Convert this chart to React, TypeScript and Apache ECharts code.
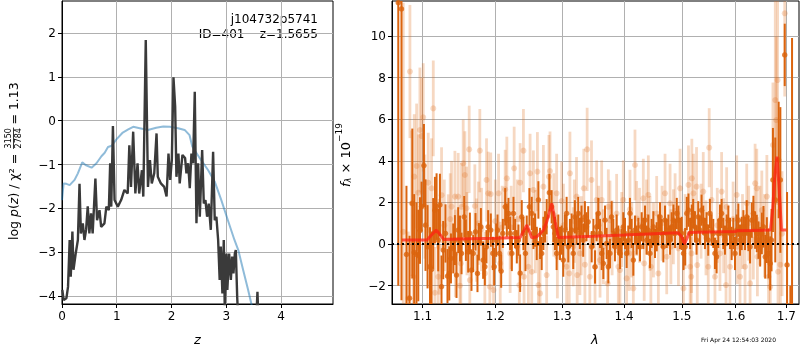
import React, { useEffect, useRef } from "react";
import * as echarts from "echarts";

// ---- left panel: log p(z) ----
const pzZ = [0.006, 0.03, 0.08, 0.11, 0.14, 0.16, 0.19, 0.21, 0.25, 0.29, 0.32, 0.345, 0.38, 0.41, 0.44, 0.47, 0.5, 0.53, 0.56, 0.61, 0.64, 0.685, 0.715, 0.775, 0.81, 0.855, 0.88, 0.9, 0.93, 0.96, 1.02, 1.08, 1.14, 1.2, 1.23, 1.26, 1.3, 1.34, 1.38, 1.41, 1.46, 1.485, 1.53, 1.57, 1.606, 1.64, 1.685, 1.727, 1.75, 1.806, 1.867, 1.91, 1.945, 1.976, 2.006, 2.036, 2.067, 2.09, 2.127, 2.15, 2.2, 2.248, 2.273, 2.304, 2.334, 2.364, 2.395, 2.425, 2.456, 2.486, 2.517, 2.56, 2.59, 2.62, 2.65, 2.68, 2.718, 2.76, 2.79, 2.82, 2.852, 2.88, 2.9, 2.93, 2.955, 2.973, 3.004, 3.02, 3.053, 3.084, 3.108, 3.132, 3.157, 3.175, 3.2, 3.218, 3.35, 3.5, 3.55, 3.57, 3.59, 3.8, 4.2, 4.9];
const pzLog = [-3.86, -4.09, -4.05, -3.79, -2.72, -3.56, -2.53, -3.4, -3.03, -2.72, -1.44, -2.57, -2.34, -2.72, -2.49, -1.95, -2.57, -2.11, -2.57, -1.32, -2.27, -2.04, -2.42, -2.34, -1.96, -2.04, -0.97, -1.96, -0.12, -1.81, -1.96, -1.81, -1.58, -1.66, -0.56, -1.51, -0.25, -1.66, -0.97, -1.66, -1.13, -1.73, 1.84, -1.51, -0.9, -1.43, -1.2, -0.29, -1.28, -1.43, -1.51, -1.73, -0.75, -1.35, -0.9, 0.99, 0.32, -1.28, -0.75, -1.43, -0.78, -0.85, -1.2, -0.97, -1.54, -0.75, -0.97, 0.66, -2.34, -0.97, -2.19, -0.67, -1.89, -1.81, -2.19, -1.89, -2.49, -0.71, -2.27, -2.19, -2.72, -3.63, -2.87, -3.94, -2.72, -4.3, -3.03, -3.86, -3.03, -3.63, -3.1, -3.48, -3.03, -2.95, -4.02, -4.5, -5.2, -5.0, -4.5, -3.9, -4.6, -5.5, -6.5, -8.0];
const priorZ = [0, 0.03, 0.08, 0.14, 0.23, 0.29, 0.37, 0.43, 0.54, 0.63, 0.72, 0.78, 0.84, 0.91, 0.99, 1.11, 1.21, 1.3, 1.42, 1.57, 1.72, 1.85, 1.97, 2.12, 2.24, 2.33, 2.38, 2.52, 2.67, 2.79, 2.91, 3.03, 3.15, 3.22, 3.31, 3.4, 3.46, 3.52, 3.7];
const priorLog = [-1.81, -1.43, -1.44, -1.47, -1.35, -1.2, -0.95, -1.01, -1.07, -0.97, -0.81, -0.73, -0.6, -0.57, -0.43, -0.27, -0.2, -0.14, -0.17, -0.21, -0.16, -0.13, -0.14, -0.17, -0.21, -0.33, -0.59, -0.86, -1.13, -1.39, -1.81, -2.27, -2.72, -2.95, -3.41, -3.86, -4.18, -4.55, -5.8];
const zTicks = [0, 1, 2, 3, 4];
const logpTicks = [-4, -3, -2, -1, 0, 1, 2];

// ---- right panel: spectrum ----
const lamTicks = [1.1, 1.2, 1.3, 1.4, 1.5, 1.6, 1.7];
const fluxTicks = [-2, 0, 2, 4, 6, 8, 10];
// [lambda, flux, error]
const darkPoints = [
  [1.0685, 11.6, 13.6], [1.0726, 11.3, 14.0], [1.079, -0.5, 3.3], [1.083, -2.6, 3.0], [1.0866, 1.95, 3.6], [1.089, -0.4, 2.8], [1.092, -0.5, 2.5], [1.0944, -0.55, 2.2], [1.0966, 0.65, 1.6], [1.0987, 1.8, 1.2], [1.1018, 3.77, 2.0],
  [1.1039, 0.91, 2.2], [1.1066, -0.13, 2.0], [1.1098, -1.09, 1.9], [1.1119, -1.22, 1.8], [1.1141, 0.51, 1.7], [1.1164, 1.63, 1.6], [1.1186, 1.8, 1.6], [1.1208, 0.19, 1.5], [1.1231, 1.88, 1.5], [1.1252, -2.05, 1.5], [1.1275, -0.29, 1.4], [1.1306, 0.51, 1.4], [1.1333, -1.54, 1.3], [1.1357, -1.41, 1.3], [1.138, -0.69, 1.2], [1.1411, -0.21, 1.2], [1.1434, 0.19, 1.2], [1.1456, -1.49, 1.1], [1.1479, 0.67, 1.1], [1.1503, 0.27, 1.1], [1.1525, -0.45, 1.0], [1.1562, 1.31, 1.0], [1.1585, 0.19, 1.0], [1.1617, -0.37, 1.0], [1.1641, 0.51, 1.0], [1.1663, -1.25, 1.0], [1.1687, -0.45, 0.9], [1.1719, 0.59, 0.9], [1.1747, -1.41, 0.9], [1.1767, 0.11, 0.9], [1.1795, 0.83, 0.9], [1.1827, -0.77, 0.9], [1.1851, -1.09, 0.9], [1.1874, -0.13, 0.8], [1.1898, 0.83, 0.8], [1.1936, 0.67, 0.8],
  [1.1965, -0.45, 0.8], [1.1984, -1.09, 0.9], [1.2013, 0.19, 0.8], [1.2032, 0.67, 0.75], [1.2061, -0.45, 0.85], [1.2085, -1.3, 0.8], [1.2109, 0.51, 0.7], [1.2143, 1.79, 0.9], [1.2167, 1.15, 0.8], [1.2191, 1.47, 0.75], [1.2215, 0.51, 0.8], [1.224, -0.45, 0.85], [1.2264, 1.47, 0.8], [1.2288, 0.51, 0.7], [1.2313, -0.13, 0.8], [1.2337, 0.19, 0.75], [1.2362, -1.4, 0.9], [1.2386, 1.31, 0.8], [1.2411, 0.51, 0.8], [1.2441, -0.45, 0.85], [1.246, 0.67, 0.7], [1.25, 1.79, 0.9], [1.2535, 1.47, 0.8], [1.256, 0.51, 0.75], [1.2585, 0.67, 0.8], [1.261, 0.03, 0.8], [1.2635, 2.12, 0.9], [1.266, 0.03, 0.75], [1.2685, -0.45, 0.8], [1.2711, 0.51, 0.8], [1.2736, 0.83, 0.75], [1.2761, 1.31, 0.85], [1.2802, 2.47, 0.9], [1.2837, 1.79, 0.8], [1.2863, 0.83, 0.75], [1.2888, 0.51, 0.8], [1.2914, -0.45, 0.8], [1.294, 0.67, 0.75], [1.2966, 0.03, 0.8], [1.2991, 0.19, 0.7], [1.3017, -0.77, 0.8], [1.3043, 0.67, 0.75], [1.3069, 1.47, 0.8], [1.3095, -0.13, 0.75], [1.3121, 0.51, 0.7], [1.3147, 0.67, 0.8], [1.3173, -0.45, 0.75], [1.3199, 1.31, 0.8], [1.3225, 0.67, 0.7], [1.3252, 1.47, 0.8], [1.3278, 0.51, 0.75], [1.3304, 1.15, 0.7], [1.3331, 0.19, 0.8], [1.3358, 1.31, 0.75], [1.3384, 0.83, 0.7], [1.3411, 1.07, 0.75],
  [1.3467, -0.13, 0.75], [1.3494, 0.51, 0.7], [1.3521, -1.1, 0.8], [1.3547, 0.83, 0.7], [1.3574, 1.47, 0.75], [1.3602, 0.51, 0.7], [1.3629, -0.45, 0.8], [1.3656, -0.93, 0.75], [1.3683, 1.15, 0.7], [1.371, 0.03, 0.75], [1.3738, -1.09, 0.8], [1.3765, -0.45, 0.7], [1.3792, 1.31, 0.75], [1.382, 0.51, 0.7], [1.3847, -0.13, 0.7], [1.3875, 0.67, 0.75], [1.3903, 0.19, 0.7], [1.3931, -0.45, 0.75], [1.3958, 0.03, 0.7], [1.3986, 0.83, 0.7], [1.4014, 0.51, 0.75], [1.4042, -0.45, 0.7], [1.407, 0.19, 0.7], [1.4098, 1.47, 0.75], [1.4126, 0.51, 0.7], [1.4155, -0.77, 0.75], [1.4183, 0.67, 0.7], [1.4211, 0.19, 0.7], [1.424, 0.51, 0.75], [1.4268, -0.13, 0.7], [1.4297, 0.83, 0.7], [1.4325, 0.51, 0.75], [1.4354, 1.15, 0.7], [1.4383, 0.19, 0.7], [1.4411, 0.67, 0.75], [1.444, -0.45, 0.7], [1.4469, 0.51, 0.7], [1.4498, 0.83, 0.75], [1.4527, 0.03, 0.7], [1.4556, 0.35, 0.7], [1.4585, 0.67, 0.75], [1.4614, 1.31, 0.7], [1.4644, 0.51, 0.7], [1.4673, -0.13, 0.75], [1.4702, 1.15, 0.7], [1.4732, 0.51, 0.7], [1.4761, 0.67, 0.75], [1.4791, 0.19, 0.7], [1.482, 0.83, 0.7], [1.485, 1.15, 0.75], [1.488, 0.51, 0.7], [1.491, 1.47, 0.75], [1.494, 1.15, 0.7], [1.4969, 0.51, 0.75], [1.4999, 0.51, 0.8], [1.503, -0.45, 0.8], [1.506, -0.13, 0.9], [1.509, 1.47, 0.8], [1.512, 1.63, 0.8], [1.515, 0.51, 0.75],
  [1.5181, 1.15, 0.75], [1.5206, 1.47, 0.7], [1.5237, 0.83, 0.75], [1.5267, 0.19, 0.7], [1.5298, 1.31, 0.75], [1.5328, 0.67, 0.7], [1.5359, 1.63, 0.75], [1.539, 1.15, 0.7], [1.5421, 0.51, 0.75], [1.5451, 0.83, 0.7], [1.5482, 0.19, 0.75], [1.5513, 1.47, 0.7], [1.5544, 0.67, 0.75], [1.5576, 0.51, 0.7], [1.5607, -0.45, 0.75], [1.5638, -0.61, 0.8], [1.5669, 0.51, 0.7], [1.5701, 1.15, 0.75], [1.5732, 1.47, 0.7], [1.5764, 0.51, 0.75], [1.5795, 0.19, 0.7], [1.5827, 0.67, 0.75], [1.5859, 1.15, 0.7], [1.589, 0.51, 0.75], [1.5922, 0.03, 0.8], [1.5954, 0.51, 0.75], [1.5986, -0.45, 0.8], [1.6018, 0.67, 0.75], [1.605, 1.15, 0.8], [1.6082, 0.19, 0.75], [1.6115, 0.51, 0.8], [1.6147, 0.83, 0.8], [1.6179, 0.51, 0.8], [1.6212, 1.31, 0.8], [1.6244, 0.51, 0.85], [1.6277, -0.13, 0.8], [1.631, 1.15, 0.85], [1.6342, 1.47, 0.85], [1.6375, 0.67, 0.9], [1.6408, 0.51, 0.9], [1.6441, 0.19, 0.9], [1.6474, -0.13, 0.95], [1.6507, 0.51, 1.0], [1.654, 0.83, 1.0], [1.6574, -0.61, 1.05], [1.6607, 0.19, 1.1], [1.664, -0.45, 1.2], [1.6674, -0.93, 1.3], [1.67, 0.19, 1.5], [1.6728, 3.08, 2.5], [1.6775, 2.12, 3.0], [1.6843, 4.04, 2.8], [1.6877, 3.08, 3.5], [1.6966, 9.09, 1.5], [1.7013, -1.0, 3.5], [1.7081, -3.5, 1.5], [1.7115, -4.0, 13.9],
];
const lightPoints = [
  [1.0749, 0.59, 11.0], [1.0814, -2.6, 3.2], [1.0835, 8.29, 3.2], [1.0857, 1.96, 3.5], [1.0878, -1.57, 3.0], [1.0891, 3.24, 3.0], [1.0922, 3.75, 3.0], [1.0944, 2.47, 2.8], [1.0965, 5.48, 3.0], [1.0987, 5.19, 2.8], [1.1009, 6.09, 2.6], [1.1031, 1.8, 2.5], [1.1075, 2.95, 2.4], [1.1119, 2.68, 2.4], [1.1142, 6.52, 2.3], [1.1164, -2.34, 2.2], [1.1208, -1.57, 2.2], [1.122, -0.13, 2.3], [1.1253, 2.35, 2.3], [1.129, 0.9, 2.2], [1.1343, 0.19, 2.2], [1.137, 1.2, 2.2], [1.1388, 1.8, 2.2], [1.1434, 2.28, 2.2], [1.144, -0.45, 2.1], [1.1479, 2.28, 2.1], [1.1502, -2.0, 2.2], [1.1515, -0.93, 2.1], [1.1525, 1.79, 2.1], [1.1548, 3.88, 2.1], [1.1571, 3.32, 2.1], [1.1594, 1.72, 2.0], [1.16, 0.5, 2.0], [1.1631, 4.55, 2.1], [1.164, -1.73, 2.0], [1.171, 1.83, 2.0], [1.1734, 0.19, 2.0], [1.176, 1.0, 2.0], [1.178, 4.49, 2.0], [1.1804, 0.7, 2.0], [1.1851, -1.41, 2.0], [1.1875, 3.08, 2.0], [1.1898, 2.44, 2.0], [1.1922, -2.05, 1.9], [1.1935, 2.4, 2.0],
  [1.1975, -2.21, 1.9], [1.2, 1.1, 2.0], [1.2047, 2.44, 1.9], [1.2071, -0.93, 2.0], [1.21, 0.8, 2.0], [1.2143, 2.63, 1.9], [1.2167, 3.16, 2.0], [1.2215, -0.45, 1.9], [1.223, 0.8, 2.0], [1.2274, 3.64, 2.0], [1.232, 1.2, 1.9], [1.235, -1.97, 2.0], [1.2362, 2.95, 1.9], [1.2411, 4.49, 2.0], [1.242, -1.57, 1.9], [1.2485, -1.09, 2.0], [1.251, 3.4, 1.9], [1.2535, -1.33, 2.0], [1.256, 2.6, 1.9], [1.259, 0.6, 2.0], [1.262, 3.48, 1.9], [1.2635, -1.97, 2.0], [1.266, -2.37, 1.9], [1.2711, 2.76, 2.0], [1.2761, -1.49, 1.9], [1.2795, 3.24, 2.0], [1.2812, 3.51, 1.9], [1.287, 1.4, 2.0], [1.2914, 2.44, 1.9], [1.2925, -0.61, 2.0], [1.2991, 2.07, 1.9], [1.302, 0.9, 2.0], [1.3069, -1.09, 1.9], [1.311, -1.41, 1.9], [1.3121, 3.4, 2.0], [1.3173, -0.13, 1.9], [1.319, 1.1, 2.0], [1.3225, 2.28, 1.9], [1.3235, -1.49, 1.9], [1.3278, -0.45, 2.0], [1.33, 0.4, 1.9], [1.3341, 2.68, 1.9], [1.3358, -0.99, 1.9], [1.3394, 4.55, 2.0], [1.3437, -1.57, 1.9], [1.3464, 3.08, 1.9],
  [1.3521, -1.09, 1.9], [1.3547, 2.12, 1.9], [1.358, 0.9, 1.9], [1.3602, -0.77, 1.8], [1.3629, 2.12, 1.9], [1.3656, -0.13, 1.8], [1.3725, -1.89, 1.9], [1.3738, 1.79, 1.8], [1.3765, 1.15, 1.9], [1.38, 0.3, 1.8], [1.3875, 1.47, 1.9], [1.3903, -1.09, 1.8], [1.3931, -1.25, 1.9], [1.396, 0.7, 1.8], [1.3986, 2.12, 1.9], [1.4042, -1.65, 1.8], [1.4085, -0.45, 1.8], [1.4098, 1.67, 1.9], [1.413, 0.2, 1.8], [1.4155, -2.13, 1.8], [1.4183, 3.8, 1.7], [1.4211, 1.23, 1.8], [1.426, 0.9, 1.8], [1.4325, 2.2, 1.9], [1.434, -0.93, 1.8], [1.438, 1.3, 1.8], [1.4411, 2.36, 1.9], [1.444, 0.51, 1.8], [1.4455, -1.09, 1.8], [1.45, 0.2, 1.8], [1.4556, 1.47, 1.8], [1.4585, -1.41, 1.8], [1.465, 1.0, 1.8], [1.4702, 2.44, 1.9], [1.4732, -0.61, 1.8], [1.4791, 1.96, 1.9], [1.4805, -0.13, 1.8], [1.485, 0.83, 1.8], [1.488, 1.6, 1.8], [1.494, -0.21, 1.8], [1.4969, 2.68, 1.9], [1.503, -2.13, 1.9], [1.506, 0.6, 1.8], [1.512, 2.84, 1.9], [1.515, -1.09, 1.9], [1.517, -1.57, 1.9], [1.5176, -0.45, 1.9], [1.5181, 3.16, 1.9], [1.5211, 2.44, 1.9],
  [1.5267, 2.76, 1.9], [1.528, -1.01, 1.9], [1.535, 1.1, 1.8], [1.539, 2.52, 1.9], [1.544, 0.3, 1.8], [1.5482, -1.09, 1.9], [1.55, 4.63, 1.9], [1.5544, 2.12, 1.9], [1.5607, -1.57, 1.9], [1.565, 0.9, 1.8], [1.5701, -0.45, 1.8], [1.5732, 2.52, 1.9], [1.577, 0.4, 1.8], [1.5815, -1.97, 1.9], [1.5827, 1.79, 1.9], [1.589, -1.09, 1.9], [1.595, 1.2, 1.8], [1.6018, 2.36, 1.9], [1.603, -0.13, 1.8], [1.6082, -1.57, 1.9], [1.613, 0.6, 1.8], [1.6179, -1.09, 1.9], [1.6212, 1.96, 1.9], [1.625, 1.0, 1.8], [1.6277, -1.89, 1.9], [1.634, 0.2, 1.9], [1.6375, 2.92, 1.9], [1.6408, 2.68, 1.9], [1.642, -0.61, 1.9], [1.647, 0.9, 1.9], [1.6507, 1.63, 1.9], [1.656, 0.4, 2.0], [1.6607, 2.28, 2.0], [1.664, -1.57, 2.1], [1.6674, -2.05, 2.2], [1.6728, 4.76, 3.0], [1.6775, 6.92, 5.0], [1.6795, 5.96, 4.0], [1.6822, 7.88, 6.0], [1.683, -1.33, 3.0], [1.6877, -0.99, 3.0], [1.6911, 0.5, 3.0], [1.6966, 11.09, 4.0],
];
const modelLam = [1.0733, 1.1058, 1.112, 1.1182, 1.124, 1.128, 1.15, 1.2, 1.2362, 1.241, 1.2461, 1.25, 1.2535, 1.2611, 1.2711, 1.2762, 1.2839, 1.289, 1.2941, 1.35, 1.4, 1.45, 1.4936, 1.5, 1.5048, 1.509, 1.5134, 1.55, 1.6, 1.602, 1.6678, 1.672, 1.677, 1.681, 1.685, 1.69, 1.7];
const modelFlux = [0.19, 0.19, 0.45, 0.67, 0.42, 0.22, 0.24, 0.28, 0.32, 0.6, 0.91, 0.6, 0.3, 0.35, 0.67, 1.07, 1.96, 1.1, 0.32, 0.38, 0.44, 0.5, 0.54, 0.35, 0.0, 0.25, 0.56, 0.58, 0.6, 0.64, 0.67, 1.6, 3.4, 4.2, 2.8, 0.67, 0.67];

const FONT = "DejaVu Sans";
const DARK = "rgb(219,100,14)";
const LIGHT_BAR = "rgba(222,110,30,0.27)";
const LIGHT_DOT = "rgba(222,110,30,0.32)";
const minus = (v: number, d = 0) => (v < 0 ? "\u2212" : "") + Math.abs(v).toFixed(d);

function errBars(color: string, width: number) {
  return (params: any, api: any) => {
    const x = api.value(0);
    const y = api.value(1);
    const e = api.value(2);
    const p1 = api.coord([x, y - e]);
    const p2 = api.coord([x, y + e]);
    return {
      type: "line",
      shape: { x1: p1[0], y1: p1[1], x2: p2[0], y2: p2[1] },
      style: { stroke: color, lineWidth: width },
    };
  };
}

function measure(text: string, font: string) {
  const c = document.createElement("canvas").getContext("2d");
  if (!c) return text.length * 7;
  c.font = font;
  return c.measureText(text).width;
}

export default function App() {
  const ref = useRef<HTMLDivElement>(null);
  useEffect(() => {
    if (!ref.current) return;
    const chart = echarts.init(ref.current, null, { renderer: "svg" });
    const axisCommon = {
      axisLine: { show: true, onZero: false, lineStyle: { color: "#000", width: 1 } },
      axisTick: { show: true, length: 4, lineStyle: { color: "#000", width: 1 } },
      splitLine: { show: true, lineStyle: { color: "#b0b0b0", width: 1 } },
    };

    // y-label layout for the left panel (rotated)
    const FS = 12.5;
    const fN = `${FS}px "${FONT}"`;
    const fI = `italic ${FS}px "${FONT}"`;
    const wA =
      measure("log ", fN) + measure("p", fI) + measure("(", fN) + measure("z", fI) + measure(") / χ² = ", fN);
    const fracW = measure("3150", `8px "${FONT}"`) + 3;
    const start = -85;
    const fracC = start + wA + fracW / 2;
    const cStart = start + wA + fracW + 2;

    const option: any = {
      animation: false,
      textStyle: { fontFamily: FONT },
      grid: [
        { left: 62, top: 1, width: 271, height: 303, show: true, borderColor: "#000", borderWidth: 1, backgroundColor: "transparent" },
        { left: 392, top: 1, width: 407, height: 303, show: true, borderColor: "#000", borderWidth: 1, backgroundColor: "transparent" },
      ],
      xAxis: [
        {
          gridIndex: 0, type: "value", min: 0, max: 4.95, ...axisCommon,
          axisTick: { ...axisCommon.axisTick, customValues: zTicks },
          axisLabel: { customValues: zTicks, color: "#000", fontSize: 12, fontFamily: FONT, margin: 6, formatter: (v: number) => minus(v) },
        },
        {
          gridIndex: 1, type: "log", logBase: 10, min: 1.0605, max: 1.7258, ...axisCommon,
          axisTick: { ...axisCommon.axisTick, customValues: lamTicks },
          axisLabel: { customValues: lamTicks, color: "#000", fontSize: 12, fontFamily: FONT, margin: 6, formatter: (v: number) => v.toFixed(1) },
        },
      ],
      yAxis: [
        {
          gridIndex: 0, type: "value", min: -4.18, max: 2.73, ...axisCommon,
          axisTick: { ...axisCommon.axisTick, customValues: logpTicks },
          axisLabel: { customValues: logpTicks, color: "#000", fontSize: 12, fontFamily: FONT, margin: 6, formatter: (v: number) => minus(v) },
        },
        {
          gridIndex: 1, type: "value", min: -2.88, max: 11.68, ...axisCommon,
          axisTick: { ...axisCommon.axisTick, customValues: fluxTicks },
          axisLabel: { customValues: fluxTicks, color: "#000", fontSize: 12, fontFamily: FONT, margin: 6, formatter: (v: number) => minus(v) },
        },
      ],
      series: [
        {
          type: "line", xAxisIndex: 0, yAxisIndex: 0, showSymbol: false, clip: true,
          data: priorZ.map((z, i) => [z, priorLog[i]]),
          lineStyle: { color: "rgba(31,119,180,0.5)", width: 2 },
        },
        {
          type: "line", xAxisIndex: 0, yAxisIndex: 0, showSymbol: false, clip: true,
          data: pzZ.map((z, i) => [z, pzLog[i]]),
          lineStyle: { color: "#3a3a3a", width: 2.4 },
        },
        {
          type: "custom", xAxisIndex: 1, yAxisIndex: 1, clip: true,
          renderItem: errBars(LIGHT_BAR, 2.8), data: lightPoints, encode: { x: 0, y: 1 }, z: 1,
        },
        {
          type: "scatter", xAxisIndex: 1, yAxisIndex: 1, clip: true, symbolSize: 6,
          itemStyle: { color: LIGHT_DOT }, data: lightPoints.map((p) => [p[0], p[1]]), z: 2,
        },
        {
          type: "custom", xAxisIndex: 1, yAxisIndex: 1, clip: true,
          renderItem: errBars(DARK, 2), data: darkPoints, encode: { x: 0, y: 1 }, z: 3,
        },
        {
          type: "scatter", xAxisIndex: 1, yAxisIndex: 1, clip: true, symbolSize: 5.5,
          itemStyle: { color: DARK }, data: darkPoints.map((p) => [p[0], p[1]]), z: 4,
          markLine: {
            silent: true, symbol: "none", label: { show: false },
            lineStyle: { color: "#000", type: [2, 3], width: 2 },
            data: [{ yAxis: 0 }],
          },
        },
        {
          type: "line", xAxisIndex: 1, yAxisIndex: 1, showSymbol: false, clip: true, z: 6,
          data: modelLam.map((l, i) => [l, modelFlux[i]]),
          lineStyle: { color: "rgba(255,30,20,0.72)", width: 3 },
        },
      ],
      graphic: [
        { type: "text", right: 800 - 318, top: 13, style: { text: "j104732p5741", font: `12px "${FONT}"`, fill: "#000", textAlign: "right" } },
        { type: "text", right: 800 - 318, top: 28, style: { text: "ID=401    z=1.5655", font: `12px "${FONT}"`, fill: "#000", textAlign: "right" } },
        { type: "text", left: 194, top: 333, style: { text: "z", font: `italic 13px "${FONT}"`, fill: "#000" } },
        { type: "text", left: 591, top: 333, style: { text: "λ", font: `italic 13px "${FONT}"`, fill: "#000" } },
        { type: "text", left: 701, top: 336, style: { text: "Fri Apr 24 12:54:03 2020", font: `6px "${FONT}"`, fill: "#000" } },
        {
          type: "group", x: 13, y: 155, rotation: Math.PI / 2,
          children: [
            {
              type: "text", x: start, y: 0,
              style: {
                text: "{n|log }{i|p}{n|(}{i|z}{n|) / χ² = }",
                fill: "#000", verticalAlign: "middle", align: "left",
                rich: {
                  n: { font: fN, fill: "#000" },
                  i: { font: fI, fill: "#000" },
                },
              },
            },
            { type: "text", x: fracC, y: -4.5, style: { text: "3150", font: `8px "${FONT}"`, fill: "#000", align: "center", verticalAlign: "middle" } },
            { type: "line", shape: { x1: fracC - fracW / 2 + 1, y1: 0.5, x2: fracC + fracW / 2 - 1, y2: 0.5 }, style: { stroke: "#000", lineWidth: 0.8 } },
            { type: "text", x: fracC, y: 5.5, style: { text: "2784", font: `8px "${FONT}"`, fill: "#000", align: "center", verticalAlign: "middle" } },
            { type: "text", x: cStart, y: 0, style: { text: "= 1.13", font: fN, fill: "#000", align: "left", verticalAlign: "middle" } },
          ],
        },
        {
          type: "group", x: 343, y: 155, rotation: Math.PI / 2,
          children: [
            {
              type: "text", x: 0, y: 0,
              style: {
                text: "{i|f}{s|λ}{n| × 10}{sup|−19}",
                fill: "#000", verticalAlign: "middle", align: "center",
                rich: {
                  n: { font: `13px "${FONT}"`, fill: "#000", verticalAlign: "bottom", lineHeight: 18 },
                  i: { font: `italic 13px "${FONT}"`, fill: "#000", verticalAlign: "bottom", lineHeight: 18 },
                  s: { font: `italic 8px "${FONT}"`, fill: "#000", verticalAlign: "bottom", lineHeight: 14 },
                  sup: { font: `9px "${FONT}"`, fill: "#000", verticalAlign: "top", lineHeight: 10 },
                },
              },
            },
          ],
        },
      ],
    };
    chart.setOption(option);
    return () => chart.dispose();
  }, []);
  return <div ref={ref} style={{ position: "fixed", left: 0, top: 0, width: 800, height: 350 }} />;
}
